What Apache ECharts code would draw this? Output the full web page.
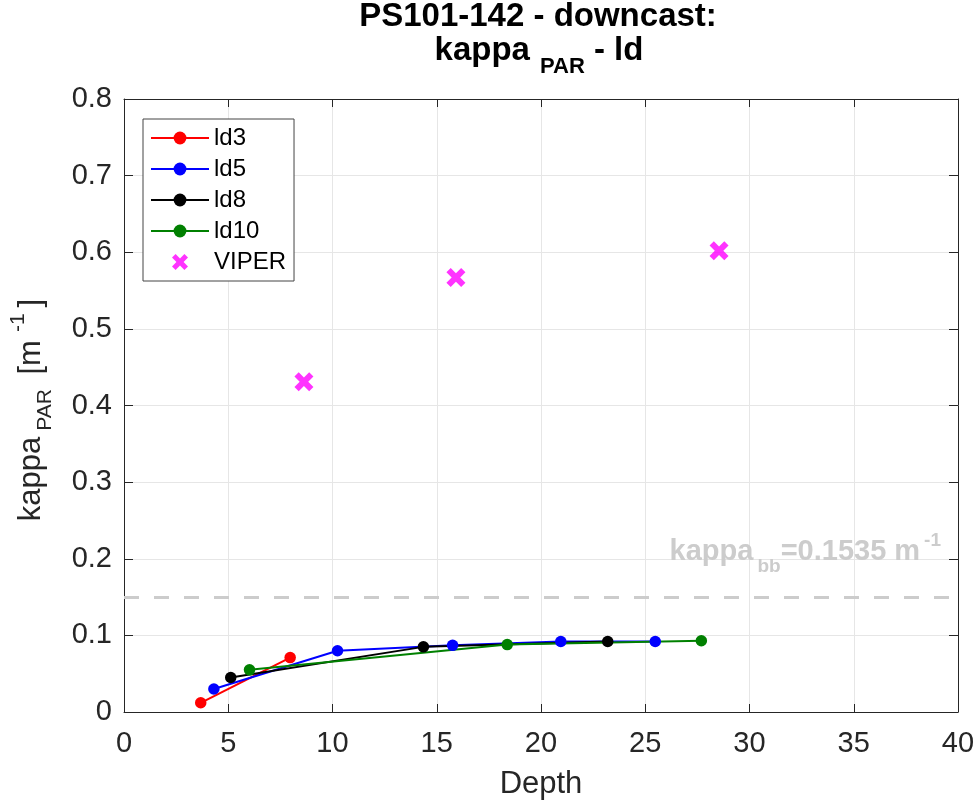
<!DOCTYPE html>
<html>
<head>
<meta charset="utf-8">
<script src="https://cdn.jsdelivr.net/npm/echarts@6/dist/echarts.min.js"></script>
<style>
  html, body { margin: 0; padding: 0; background: #fff; }
  #chart { width: 979px; height: 805px; }
</style>
</head>
<body>
<div id="chart"></div>
<script>
// values
var ld3Depth = [3.68, 7.97];
var ld3Kappa = [0.012, 0.071];
var ld5Depth = [4.31, 10.24, 15.76, 20.95, 25.48];
var ld5Kappa = [0.030, 0.080, 0.087, 0.092, 0.092];
var ld8Depth = [5.12, 14.36, 23.2];
var ld8Kappa = [0.045, 0.085, 0.092];
var ld10Depth = [6.02, 18.38, 27.69];
var ld10Kappa = [0.055, 0.088, 0.093];
var viperDepth = [8.63, 15.92, 28.54];
var viperKappa = [0.431, 0.567, 0.602];
var kappaBB = 0.1535;

var FONT = 'Liberation Sans, Arial, sans-serif';
var AXIS = '#262626';

function pairs(xs, ys) {
    return xs.map(function (x, i) { return [x, ys[i]]; });
}

// fat x marker like matlab's 'x' with thick linewidth
var xMarker = 'path://M0,4.5 L4.5,0 L10,5.5 L15.5,0 L20,4.5 L14.5,10 L20,15.5 L15.5,20 L10,14.5 L4.5,20 L0,15.5 L5.5,10 Z';

function lineSeries(name, color, xs, ys) {
    return {
        name: name,
        type: 'line',
        data: pairs(xs, ys),
        symbol: 'circle',
        symbolSize: 11.5,
        showAllSymbol: true,
        lineStyle: {color: color, width: 2},
        itemStyle: {color: color},
        z: 3
    };
}

var chart = echarts.init(document.getElementById('chart'));

var series = [
    lineSeries('ld3', '#ff0000', ld3Depth, ld3Kappa),
    lineSeries('ld5', '#0000ff', ld5Depth, ld5Kappa),
    lineSeries('ld8', '#000000', ld8Depth, ld8Kappa),
    lineSeries('ld10', '#008000', ld10Depth, ld10Kappa),
    {
        name: 'VIPER',
        type: 'scatter',
        data: pairs(viperDepth, viperKappa),
        symbol: xMarker,
        symbolSize: 19,
        itemStyle: {color: '#ff00ff'},
        z: 4
    }
];

// kappa_bb reference line
series[0].markLine = {
    silent: true,
    symbol: ['none', 'none'],
    label: {show: false},
    lineStyle: {color: '#cccccc', width: 3, type: [15, 15]},
    data: [{yAxis: kappaBB}],
    z: 2
};

var option = {
    animation: false,
    backgroundColor: '#fff',
    grid: {left: 124, right: 21, top: 99, bottom: 93, outerBoundsMode: 'none', containLabel: false},
    xAxis: [{
        type: 'value',
        min: 0, max: 40, interval: 5,
        name: 'Depth',
        nameLocation: 'middle',
        nameGap: 57,
        nameTextStyle: {fontFamily: FONT, fontSize: 31, color: AXIS},
        axisLine: {lineStyle: {color: AXIS, width: 1}},
        axisTick: {inside: true, length: 8, lineStyle: {color: AXIS}},
        axisLabel: {fontFamily: FONT, fontSize: 29, color: AXIS, margin: 17},
        splitLine: {show: true, lineStyle: {color: '#e6e6e6', width: 1}}
    }, {
        type: 'value',
        position: 'top',
        min: 0, max: 40, interval: 5,
        axisLine: {show: true, onZero: false, lineStyle: {color: AXIS, width: 1}},
        axisTick: {inside: true, length: 8, lineStyle: {color: AXIS}},
        axisLabel: {show: false},
        splitLine: {show: false}
    }],
    yAxis: [{
        type: 'value',
        min: 0, max: 0.8, interval: 0.1,
        axisLine: {show: true, lineStyle: {color: AXIS, width: 1}},
        axisTick: {show: true, inside: true, length: 9, lineStyle: {color: AXIS}},
        axisLabel: {fontFamily: FONT, fontSize: 29, color: AXIS, margin: 12},
        splitLine: {show: true, lineStyle: {color: '#e6e6e6', width: 1}}
    }, {
        type: 'value',
        position: 'right',
        min: 0, max: 0.8, interval: 0.1,
        axisLine: {show: true, onZero: false, lineStyle: {color: AXIS, width: 1}},
        axisTick: {show: true, inside: true, length: 9, lineStyle: {color: AXIS}},
        axisLabel: {show: false},
        splitLine: {show: false}
    }],
    legend: {
        left: 143, top: 119,
        orient: 'vertical',
        backgroundColor: '#fff',
        borderColor: '#444',
        borderWidth: 1,
        borderRadius: 0,
        padding: [7, 8, 7, 7],
        itemWidth: 58,
        itemHeight: 16,
        itemGap: 7,
        textStyle: {fontFamily: FONT, fontSize: 24, color: '#000', lineHeight: 24},
        data: ['ld3', 'ld5', 'ld8', 'ld10', 'VIPER']
    },
    graphic: [
        {
            type: 'text', x: 538, y: 17, z: 10,
            style: {
                text: 'PS101-142 - downcast:',
                font: 'bold 33px ' + FONT, fill: '#000',
                align: 'center', verticalAlign: 'middle'
            }
        },
        {
            type: 'text', x: 539, y: 51, z: 10,
            style: {
                text: '{a|kappa}{s|PAR}{a| - ld}',
                align: 'center', verticalAlign: 'middle',
                rich: {
                    a: {fontFamily: FONT, fontWeight: 'bold', fontSize: 33, fill: '#000', lineHeight: 33},
                    s: {fontFamily: FONT, fontWeight: 'bold', fontSize: 22, fill: '#000', lineHeight: 22, padding: [32, 0, 0, 10]}
                }
            }
        },
        {
            type: 'text', x: 31, y: 410, rotation: Math.PI / 2, z: 10,
            style: {
                text: '{a|kappa}{s|PAR}{m| [m}{p|-1}{q|]}',
                align: 'center', verticalAlign: 'middle',
                rich: {
                    a: {fontFamily: FONT, fontSize: 31, fill: AXIS, lineHeight: 31},
                    m: {fontFamily: FONT, fontSize: 31, fill: AXIS, lineHeight: 31, padding: [0, 0, 0, 6]},
                    q: {fontFamily: FONT, fontSize: 31, fill: AXIS, lineHeight: 31, padding: [0, 0, 0, 6]},
                    s: {fontFamily: FONT, fontSize: 21, fill: AXIS, lineHeight: 21, padding: [28, 0, 0, 6]},
                    p: {fontFamily: FONT, fontSize: 21, fill: AXIS, lineHeight: 21, padding: [0, 0, 26, 8]}
                }
            }
        },
        {
            type: 'text', x: 941, y: 552, z: 10,
            style: {
                text: '{a|kappa}{s|bb}{a|=0.1535 m}{p|-1}',
                align: 'right', verticalAlign: 'middle',
                rich: {
                    a: {fontFamily: FONT, fontWeight: 'bold', fontSize: 29, fill: '#cccccc', lineHeight: 29},
                    s: {fontFamily: FONT, fontWeight: 'bold', fontSize: 19, fill: '#cccccc', lineHeight: 19, padding: [30, 0, 0, 4]},
                    p: {fontFamily: FONT, fontWeight: 'bold', fontSize: 19, fill: '#cccccc', lineHeight: 19, padding: [0, 0, 22, 4]}
                }
            }
        }
    ],
    series: series
};

chart.setOption(option);
</script>
</body>
</html>
